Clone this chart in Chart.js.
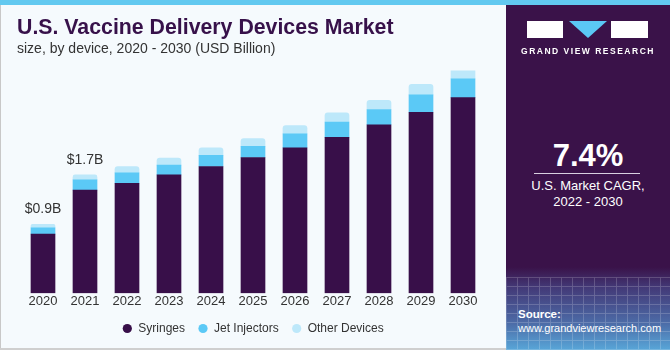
<!DOCTYPE html>
<html>
<head>
<meta charset="utf-8">
<script src="https://cdn.jsdelivr.net/npm/chart.js@4"></script>
<style>
	body { margin: 0; }
	#wrap {
		position: relative; width: 670px; height: 350px; overflow: hidden;
		background: #f5fafd; font-family: "Liberation Sans", Arial, sans-serif;
	}
	#stripe { position: absolute; left: 0; top: 0; width: 670px; height: 5px; background: #62c9f0; }
	#lborder { position: absolute; left: 0; top: 5px; width: 1px; height: 345px; background: #c8c8c8; }
	#bborder { position: absolute; left: 0; top: 348px; width: 506px; height: 2px; background: #cfcfcf; }
	#title { position: absolute; left: 17px; top: 15px; font-size: 21.3px; font-weight: bold; color: #37114a; white-space: nowrap; }
	#sub { position: absolute; left: 17px; top: 40px; font-size: 14px; color: #333; white-space: nowrap; }
	#cv { position: absolute; left: 0; top: 0; }
	#panel {
		position: absolute; left: 506px; top: 5px; width: 164px; height: 345px;
		background: linear-gradient(to bottom, #3a1249 0%, #3a1249 76%, #433a78 82%, #4c6aa6 92%, #58a6d8 100%);
	}
	#grid {
		position: absolute; left: 0; top: 272px; width: 164px; height: 73px; opacity: 0.2;
		background:
			repeating-linear-gradient(90deg, rgba(255,255,255,0.9) 0 1px, transparent 1px 11px),
			repeating-linear-gradient(0deg, rgba(255,255,255,0.9) 0 1px, transparent 1px 9px);
	}
	.logo { position: absolute; top: 16px; height: 17px; background: #fff; }
	#tri { position: absolute; left: 63px; top: 16px; width: 0; height: 0;
		border-left: 19px solid transparent; border-right: 19px solid transparent; border-top: 17px solid #5bc8f5; }
	#gvr { position: absolute; left: 0; top: 41px; width: 164px; text-align: center; color: #fff; font-size: 8.5px; font-weight: bold; letter-spacing: 1.5px; }
	#cagr { position: absolute; left: 0; top: 133px; width: 164px; text-align: center; color: #fff; font-size: 31px; font-weight: bold; }
	#line { position: absolute; left: 28px; top: 168px; width: 106px; height: 1px; background: #d8d0e0; }
	.txt { position: absolute; left: 0; width: 164px; text-align: center; color: #fff; font-size: 13px; }
	#src { position: absolute; left: 12px; top: 303px; color: #fff; font-size: 11.5px; font-weight: bold; }
	#url { position: absolute; left: 12px; top: 317px; color: #fff; font-size: 11px; }
</style>
</head>
<body>
<div id="wrap">
	<canvas id="cv" width="506" height="350"></canvas>
	<div id="stripe"></div>
	<div id="lborder"></div>
	<div id="bborder"></div>
	<div id="title">U.S. Vaccine Delivery Devices Market</div>
	<div id="sub">size, by device, 2020 - 2030 (USD Billion)</div>
	<div id="panel">
		<div id="grid"></div>
		<div class="logo" style="left:21px;width:36px;"></div>
		<div id="tri"></div>
		<div class="logo" style="left:105px;width:37px;"></div>
		<div id="gvr">GRAND VIEW RESEARCH</div>
		<div id="cagr">7.4%</div>
		<div id="line"></div>
		<div class="txt" style="top:173px;">U.S. Market CAGR,</div>
		<div class="txt" style="top:189px;">2022 - 2030</div>
		<div id="src">Source:</div>
		<div id="url">www.grandviewresearch.com</div>
	</div>
</div>
<script>
const years = ["2020", "2021", "2022", "2023", "2024", "2025", "2026", "2027", "2028", "2029", "2030"];
const syringes = [0.85, 1.48, 1.58, 1.70, 1.82, 1.95, 2.09, 2.24, 2.42, 2.60, 2.81];
const jetInjectors = [0.09, 0.15, 0.15, 0.14, 0.16, 0.16, 0.20, 0.22, 0.22, 0.25, 0.27];
const otherDevices = [0.05, 0.07, 0.09, 0.10, 0.11, 0.11, 0.12, 0.13, 0.13, 0.15, 0.16];
const valueLabels = ["$0.9B", "$1.7B"];

const topLabels = {
	id: "topLabels",
	afterDatasetsDraw(chart) {
		const ctx = chart.ctx;
		const meta = chart.getDatasetMeta(2);
		ctx.save();
		ctx.font = "14px 'Liberation Sans', Arial, sans-serif";
		ctx.fillStyle = "#333";
		ctx.textAlign = "center";
		ctx.textBaseline = "middle";
		valueLabels.forEach((t, i) => {
			const bar = meta.data[i];
			ctx.fillText(t, bar.x, bar.y - 15);
		});
		ctx.restore();
	},
};

const ctx = document.getElementById("cv");
new Chart(ctx, {
	type: "bar",
	data: {
		labels: years,
		datasets: [
			{ label: "Syringes", data: syringes, backgroundColor: "#380f49" },
			{ label: "Jet Injectors", data: jetInjectors, backgroundColor: "#5bc9f6" },
			{
				label: "Other Devices", data: otherDevices, backgroundColor: "#bde8fa",
				borderRadius: { topLeft: 3, topRight: 3 }, borderSkipped: "bottom",
			},
		],
	},
	options: {
		responsive: false,
		animation: false,
		layout: { padding: { left: 22, right: 22, top: 70.5, bottom: 5.5 } },
		datasets: { bar: { barThickness: 24 } },
		scales: {
			x: {
				stacked: true,
				grid: { display: false, drawTicks: false },
				border: { display: false },
				ticks: {
					color: "#333",
					font: { size: 13, lineHeight: 1.1, family: "'Liberation Sans', Arial, sans-serif" },
					padding: 1,
				},
			},
			y: { stacked: true, display: false, min: 0, max: 3.2 },
		},
		plugins: {
			tooltip: { enabled: false },
			legend: {
				position: "bottom",
				labels: {
					usePointStyle: true,
					pointStyle: "circle",
					boxWidth: 10,
					boxHeight: 6.5,
					padding: 13,
					color: "#333",
					font: { size: 12, family: "'Liberation Sans', Arial, sans-serif" },
				},
			},
		},
	},
	plugins: [topLabels],
});
</script>
</body>
</html>
